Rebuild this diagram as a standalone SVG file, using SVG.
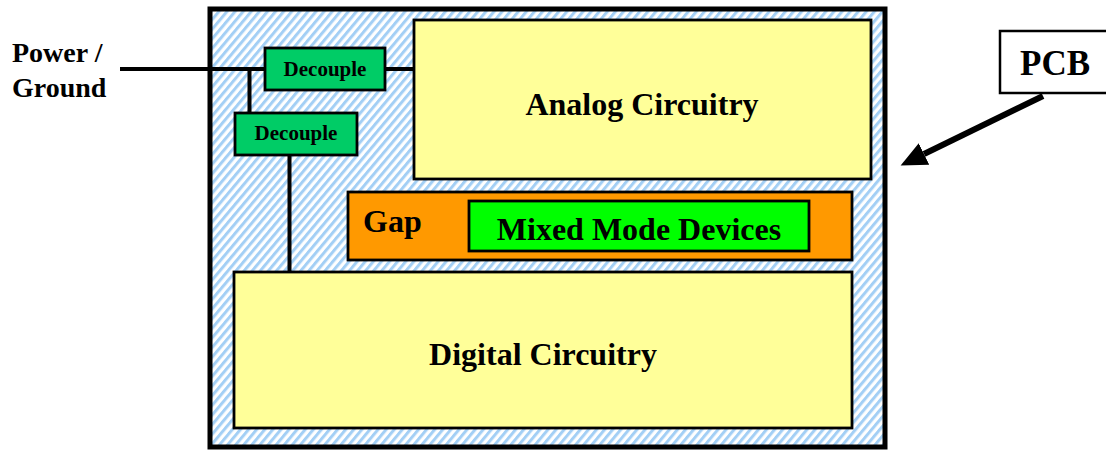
<svg xmlns="http://www.w3.org/2000/svg" width="1106" height="450" viewBox="0 0 1106 450">
  <defs>
    <!-- diagonal board hatching -->
    <pattern id="hatch" width="6.2" height="6.2" patternUnits="userSpaceOnUse" patternTransform="rotate(40)">
      <rect width="6.2" height="6.2" fill="#ffffff"/>
      <rect width="3" height="6.2" fill="#a3cff5"/>
    </pattern>
    <marker id="head" markerUnits="userSpaceOnUse" markerWidth="28" markerHeight="26" refX="0" refY="13" orient="auto">
      <path d="M0,1 L26,13 L0,25 Z" fill="#000"/>
    </marker>
  </defs>
  <style>
    .lbl { font-family: "Liberation Serif", "Times New Roman", serif; font-weight: bold; fill: #000; }
    .box { stroke: #000; stroke-width: 2.8; }
    .yellow { fill: #ffff99; }
    .dec { fill: #00cc66; }
    .wire { stroke: #000; stroke-width: 4; fill: none; }
  </style>

  <!-- board outline -->
  <g id="pcb-board">
    <rect x="210" y="9" width="675" height="438" fill="url(#hatch)" stroke="#000" stroke-width="5"/>
  </g>

  <!-- supply wiring -->
  <g id="connectors">
    <path class="wire" d="M120,69 H265"/>
    <path class="wire" d="M385,69 H414"/>
    <path class="wire" d="M249.5,69 V113"/>
    <path class="wire" d="M289.5,155 V272"/>
    <path d="M1043,96 L924,154" stroke="#000" stroke-width="6" fill="none" marker-end="url(#head)"/>
  </g>

  <g id="power-label">
    <text class="lbl" x="12" y="62" font-size="28">Power /</text>
    <text class="lbl" x="12" y="97" font-size="28">Ground</text>
  </g>

  <g id="analog">
    <rect class="box yellow" x="414" y="20" width="457" height="159"/>
    <text class="lbl" x="642" y="115" font-size="32" text-anchor="middle">Analog Circuitry</text>
  </g>

  <g id="decouple-1">
    <rect class="box dec" x="265" y="48" width="120" height="42"/>
    <text class="lbl" x="325" y="76" font-size="21" text-anchor="middle">Decouple</text>
  </g>

  <g id="decouple-2">
    <rect class="box dec" x="235" y="113" width="122" height="42"/>
    <text class="lbl" x="296" y="140" font-size="21" text-anchor="middle">Decouple</text>
  </g>

  <g id="gap">
    <rect class="box" x="348" y="192" width="504" height="68" fill="#ff9900"/>
    <text class="lbl" x="363" y="232" font-size="32">Gap</text>
  </g>

  <g id="mixed-mode">
    <rect class="box" x="469" y="201" width="340" height="50" fill="#00ff00"/>
    <text class="lbl" x="639" y="240" font-size="32" text-anchor="middle">Mixed Mode Devices</text>
  </g>

  <g id="digital">
    <rect class="box yellow" x="234" y="272" width="618" height="156"/>
    <text class="lbl" x="543" y="365" font-size="32" text-anchor="middle">Digital Circuitry</text>
  </g>

  <g id="pcb-tag">
    <rect x="1000" y="31" width="112" height="62" fill="#ffffff" stroke="#000" stroke-width="2.5"/>
    <text class="lbl" x="1055" y="75" font-size="35" text-anchor="middle">PCB</text>
  </g>
</svg>
